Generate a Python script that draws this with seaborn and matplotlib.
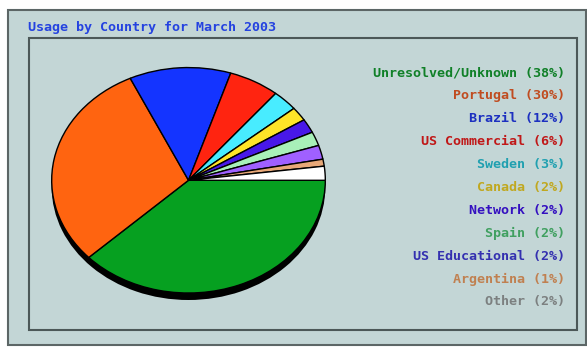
import matplotlib.pyplot as plt
from matplotlib.patches import Rectangle
import seaborn as sns

countries = ["Unresolved/Unknown", "Portugal", "Brazil", "US Commercial", "Sweden",
             "Canada", "Network", "Spain", "US Educational", "Argentina", "Other"]
percents = [38, 30, 12, 6, 3, 2, 2, 2, 2, 1, 2]
slice_colors = ["#06a020", "#ff6410", "#1434ff", "#ff2410", "#48ecff", "#ffe428",
                "#4818e8", "#a8f0b8", "#a060ff", "#e8a878", "#ffffff"]
label_colors = ["#108028", "#c04c20", "#1c30c0", "#c01818", "#20a0b0", "#c0a820",
                "#3410c0", "#40a060", "#3430b0", "#c08050", "#7c8080"]
title = "Usage by Country for March 2003"

W, H = 587, 351


def fx(px):
    return px / W


def fy(py):
    return 1 - py / H


def main():
    sns.set_theme(style="white")
    fig = plt.figure(figsize=(W / 100, H / 100), dpi=100)
    fig.patch.set_facecolor("white")

    panel = "#c3d6d6"
    fig.patches.append(Rectangle((fx(8), fy(345)), fx(586) - fx(8), fy(10) - fy(345),
                                 transform=fig.transFigure, facecolor=panel,
                                 edgecolor="#5c6666", lw=1.5, zorder=-3))
    fig.patches.append(Rectangle((fx(29), fy(330)), fx(577) - fx(29), fy(38) - fy(330),
                                 transform=fig.transFigure, facecolor=panel,
                                 edgecolor="#4c5858", lw=1.5, zorder=-2))

    fig.text(fx(28), fy(27), title, family="DejaVu Sans Mono", weight="bold",
             fontsize=9.6, color="#2442e0", ha="left", va="center")

    # pie axes: ellipse 275 x 226 px plus a 7 px shadow
    shadow = 7 / 113
    ax = fig.add_axes([fx(51), fy(300), fx(326) - fx(51), fy(67) - fy(300)])
    ax.pie([1], colors=["black"], center=(0, -shadow), radius=1,
           wedgeprops=dict(lw=0))
    ax.pie(percents, colors=slice_colors, startangle=0, counterclock=False,
           wedgeprops=dict(edgecolor="black", lw=1))
    ax.set_aspect("auto")
    ax.set_xlim(-1.005, 1.005)
    ax.set_ylim(-1 - shadow, 1.005)
    ax.axis("off")

    y0, step = 73, 22.9
    for i, (name, pct, col) in enumerate(zip(countries, percents, label_colors)):
        fig.text(fx(565), fy(y0 + i * step), f"{name} ({pct}%)",
                 family="DejaVu Sans Mono", weight="bold", fontsize=9.6,
                 color=col, ha="right", va="center")

    fig.savefig("out.png", dpi=100)


if __name__ == "__main__":
    main()
